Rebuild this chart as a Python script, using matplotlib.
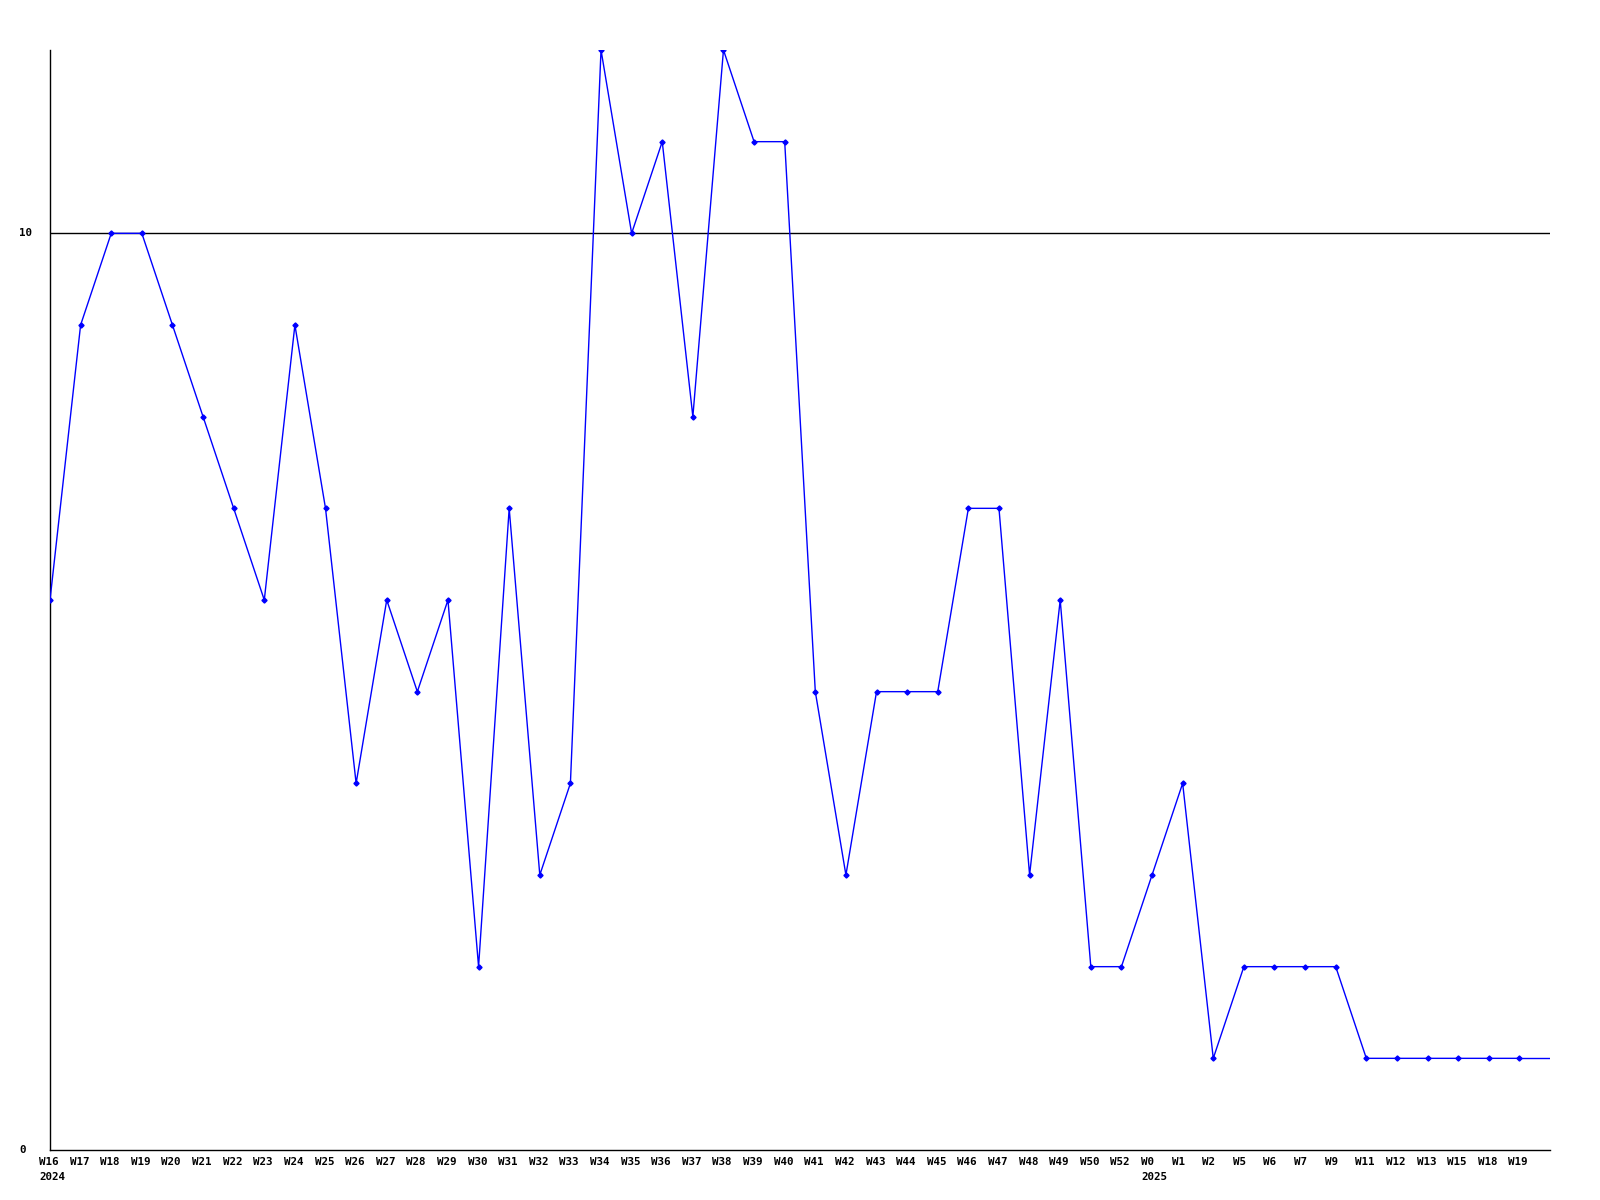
import matplotlib
matplotlib.use("Agg")
import matplotlib.pyplot as plt
import matplotlib.transforms as mtransforms

weeks = ["W16", "W17", "W18", "W19", "W20", "W21", "W22", "W23", "W24", "W25",
         "W26", "W27", "W28", "W29", "W30", "W31", "W32", "W33", "W34", "W35",
         "W36", "W37", "W38", "W39", "W40", "W41", "W42", "W43", "W44", "W45",
         "W46", "W47", "W48", "W49", "W50", "W52", "W0", "W1", "W2", "W5",
         "W6", "W7", "W9", "W11", "W12", "W13", "W15", "W18", "W19"]
values = [6, 9, 10, 10, 9, 8, 7, 6, 9, 7,
          4, 6, 5, 6, 2, 7, 3, 4, 12, 10,
          11, 8, 12, 11, 11, 5, 3, 5, 5, 5,
          7, 7, 3, 6, 2, 2, 3, 4, 1, 2,
          2, 2, 2, 1, 1, 1, 1, 1, 1]
years = {"W16": "2024", "W0": "2025"}
yticks = [0, 10]

fig = plt.figure(figsize=(16, 12), dpi=100)
ax = fig.add_axes([50/1600, 50/1200, 1500/1600, 1100/1200])
n = len(values)
xs = list(range(n))
ax.set_xlim(0, n)
ax.set_ylim(0, 12)

ax.axhline(10, color="black", lw=1.0, zorder=1)
ax.plot(xs, values, color="#0000ff", lw=1.0, marker="D", markersize=2.6,
        markerfacecolor="#0000ff", markeredgecolor="#0000ff", zorder=3)
ax.plot([xs[-1], n], [values[-1], values[-1]], color="#0000ff", lw=1.0, zorder=3)

for s in ["top", "right"]:
    ax.spines[s].set_visible(False)
for s in ["left", "bottom"]:
    ax.spines[s].set_linewidth(1.0)
    ax.spines[s].set_color("black")
ax.set_xticks([])
ax.set_yticks([])

font = dict(family="DejaVu Sans Mono", fontweight="bold", fontsize=7.8, color="black")
off = mtransforms.ScaledTranslation(-11/100, 0, fig.dpi_scale_trans)
tr = mtransforms.blended_transform_factory(ax.transData, fig.transFigure) + off
for i, w in enumerate(weeks):
    ax.text(i, 1 - 1162/1200, w, transform=tr, ha="left", va="center", **font)
    if w in years:
        ax.text(i, 1 - 1177/1200, years[w], transform=tr, ha="left", va="center", **font)

trY = mtransforms.blended_transform_factory(fig.transFigure, ax.transData)
for v in yticks:
    ax.text(19/1600, v, str(v), transform=trY, ha="left", va="center", **font)

fig.savefig("out.png", dpi=100, facecolor="white")
